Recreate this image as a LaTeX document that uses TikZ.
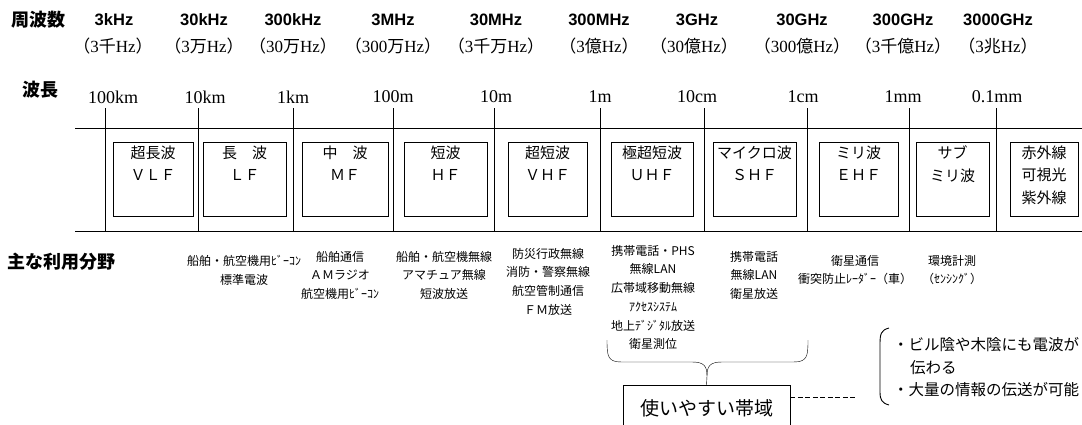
\documentclass[tikz,border=0pt]{standalone}
\usepackage{fontspec}
\setmainfont{Liberation Serif}
\setsansfont{Liberation Sans}
\newfontfamily\jp{Noto Sans CJK JP}
\usetikzlibrary{positioning}
\tikzset{
  midasi/.style={font=\jp\bfseries\fontsize{18}{20}\selectfont},
  freq/.style={font=\sffamily\bfseries\fontsize{16.5}{18}\selectfont},
  kanji/.style={font=\fontsize{17}{18}\selectfont},
  wave/.style={font=\fontsize{18}{19}\selectfont},
  band/.style={draw,line width=0.9pt,minimum height=74pt,inner sep=0pt},
  bandtxt/.style={font=\jp\fontsize{15}{22.5}\selectfont,align=center,inner sep=0pt},
  riyou/.style={font=\jp\fontsize{12}{18.7}\selectfont,align=center,inner sep=0pt,anchor=north},
  note/.style={font=\jp\fontsize{15.5}{18}\selectfont,anchor=west,inner sep=0pt}
}
\newcommand\hzpar[1]{{\jp （}#1Hz{\jp ）}}
\begin{document}
\begin{tikzpicture}[x=1pt,y=-1pt]
\useasboundingbox(0,0)rectangle(1082,424);
% headings
\node[midasi] (hfreq) at (38,20){周波数};
\node[midasi] (hwave) at (41,90){波長};
\node[midasi] (huse) at (62,262){主な利用分野};
% frequencies
\node[freq] (f1) at (114,20){3kHz};
\node[freq] (f2) at (204,20){30kHz};
\node[freq] (f3) at (293,20){300kHz};
\node[freq] (f4) at (393,20){3MHz};
\node[freq] (f5) at (496,20){30MHz};
\node[freq] (f6) at (599,20){300MHz};
\node[freq] (f7) at (697,20){3GHz};
\node[freq] (f8) at (802,20){30GHz};
\node[freq] (f9) at (903,20){300GHz};
\node[freq] (f10) at (998,20){3000GHz};
\node[kanji] (p1) at (113,46){\hzpar{3{\jp 千}}};
\node[kanji] (p2) at (204,46){\hzpar{3{\jp 万}}};
\node[kanji] (p3) at (293,46){\hzpar{30{\jp 万}}};
\node[kanji] (p4) at (393,46){\hzpar{300{\jp 万}}};
\node[kanji] (p5) at (496,46){\hzpar{3{\jp 千万}}};
\node[kanji] (p6) at (599,46){\hzpar{3{\jp 億}}};
\node[kanji] (p7) at (694,46){\hzpar{30{\jp 億}}};
\node[kanji] (p8) at (802,46){\hzpar{300{\jp 億}}};
\node[kanji] (p9) at (903,46){\hzpar{3{\jp 千億}}};
\node[kanji] (p10) at (998,46){\hzpar{3{\jp 兆}}};
% wavelengths
\node[wave] (w1) at (113,97){100km};
\node[wave] (w2) at (205,97){10km};
\node[wave] (w3) at (293,97){1km};
\node[wave] (w4) at (393,97){100m};
\node[wave] (w5) at (496,97){10m};
\node[wave] (w6) at (600,97){1m};
\node[wave] (w7) at (697,97){10cm};
\node[wave] (w8) at (803,97){1cm};
\node[wave] (w9) at (903,97){1mm};
\node[wave] (w10) at (997,97){0.1mm};
% scale
\draw[line width=0.9pt](75,128)--(1082,128);
\draw[line width=0.9pt](75,231)--(1082,231);
\draw(105,108)--(105,231);
\draw(198,108)--(198,231);
\draw(293,108)--(293,231);
\draw(393,108)--(393,231);
\draw(494,108)--(494,231);
\draw(600,108)--(600,231);
\draw(704,108)--(704,231);
\draw(807,108)--(807,231);
\draw(909,108)--(909,231);
\draw(996,108)--(996,231);
% bands
\node[band,minimum width=80pt] (vlf) at (153,179){};
\node[band,minimum width=83pt] (lf) at (244.5,179){};
\node[band,minimum width=86pt] (mf) at (345,179){};
\node[band,minimum width=83pt] (hf) at (445.5,179){};
\node[band,minimum width=79pt] (vhf) at (547.5,179){};
\node[band,minimum width=82pt] (uhf) at (652,179){};
\node[band,minimum width=83pt] (shf) at (754.5,179){};
\node[band,minimum width=79pt] (ehf) at (858.5,179){};
\node[band,minimum width=73pt] (sub) at (952.5,179){};
\node[band,minimum width=68pt] (hikari) at (1044,179){};
\node[bandtxt,below=4pt of vlf.north] (tvlf){超長波\\ＶＬＦ};
\node[bandtxt,below=4pt of lf.north] (tlf){長　波\\ＬＦ};
\node[bandtxt,below=4pt of mf.north] (tmf){中　波\\ＭＦ};
\node[bandtxt,below=4pt of hf.north] (thf){短波\\ＨＦ};
\node[bandtxt,below=4pt of vhf.north] (tvhf){超短波\\ＶＨＦ};
\node[bandtxt,below=4pt of uhf.north] (tuhf){極超短波\\ＵＨＦ};
\node[bandtxt,below=4pt of shf.north] (tshf){マイクロ波\\ＳＨＦ};
\node[bandtxt,below=4pt of ehf.north] (tehf){ミリ波\\ＥＨＦ};
\node[bandtxt,below=4pt of sub.north] (tsub){サブ\\ミリ波};
\node[bandtxt,below=4pt of hikari.north] (thikari){赤外線\\可視光\\紫外線};
% uses
\node[riyou] (u1) at (244,255){船舶・航空機用ﾋﾞｰｺﾝ\\標準電波};
\node[riyou] (u2) at (340,251){船舶通信\\ＡＭラジオ\\航空機用ﾋﾞｰｺﾝ};
\node[riyou] (u3) at (444,251){船舶・航空機無線\\アマチュア無線\\短波放送};
\node[riyou] (u4) at (548,248){防災行政無線\\消防・警察無線\\航空管制通信\\ＦＭ放送};
\node[riyou] (u5) at (653,245){携帯電話・PHS\\無線LAN\\広帯域移動無線\\ｱｸｾｽｼｽﾃﾑ\\地上ﾃﾞｼﾞﾀﾙ放送\\衛星測位};
\node[riyou] (u6) at (754,251){携帯電話\\無線LAN\\衛星放送};
\node[riyou] (u7) at (855,255){衛星通信\\衝突防止ﾚｰﾀﾞｰ（車）};
\node[riyou] (u8) at (952,255){環境計測\\（ｾﾝｼﾝｸﾞ）};
% brace and box
\node[draw,line width=0.9pt,minimum width=167pt,minimum height=46pt,anchor=north,
  font=\jp\fontsize{19}{20}\selectfont] (easy) at (706.5,385){使いやすい帯域};
\draw(607,340)..controls(607,357)and(608,362)..(622,362)--(692,362)
  ..controls(704,362)and(707,366)..(707,376)--(easy.north);
\draw(808,340)..controls(808,357)and(807,362)..(793,362)--(722,362)
  ..controls(710,362)and(707,366)..(707,376);
\coordinate (dashend) at (855,397);
\draw[dash pattern=on 5pt off 2.5pt]([yshift=-12pt]easy.north east)--(dashend);
\draw[line width=0.9pt](889,328)..controls(881,330)and(880,334)..(880,344)--(880,392)
  ..controls(880,400)and(882,403)..(889,405);
\node[note] (n1) at (893,345){・ビル陰や木陰にも電波が};
\node[note] (n2) at (910,368){伝わる};
\node[note] (n3) at (893,390){・大量の情報の伝送が可能};
\end{tikzpicture}
\end{document}
